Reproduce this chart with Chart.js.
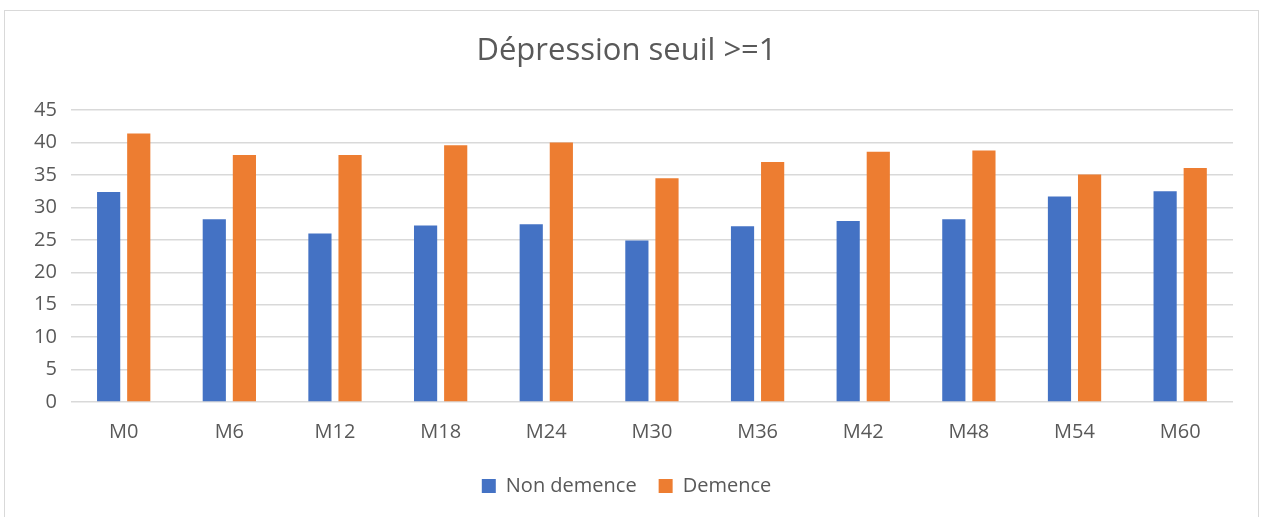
<!DOCTYPE html>
<html>
<head>
<meta charset="utf-8">
<script src="https://cdn.jsdelivr.net/npm/chart.js@4/dist/chart.umd.min.js"></script>
<style>
    html, body { margin: 0; padding: 0; background: #fff; overflow: hidden; }
    #frame { position: absolute; left: 4px; top: 10px; width: 1255px; height: 520px; border: 1px solid #d9d9d9; box-sizing: border-box; }
    #wrap { position: absolute; left: 0; top: 0; width: 1263px; height: 517px; }
</style>
</head>
<body>
<div id="frame"></div>
<div id="wrap"><canvas id="chart" width="1263" height="517"></canvas></div>
<script>
const months = ['M0', 'M6', 'M12', 'M18', 'M24', 'M30', 'M36', 'M42', 'M48', 'M54', 'M60'];
const nonDemence = [32.4, 28.2, 26.0, 27.2, 27.4, 24.9, 27.1, 27.9, 28.2, 31.7, 32.5];
const demence = [41.4, 38.1, 38.1, 39.6, 40.0, 34.5, 37.0, 38.6, 38.8, 35.1, 36.1];

const grey = '#595959';
const font = "'Open Sans', 'Noto Sans', sans-serif";

window.addEventListener('load', function() {
    const ctx = document.getElementById('chart').getContext('2d');
    new Chart(ctx, {
        type: 'bar',
        data: {
            labels: months,
            datasets: [
                {
                    label: 'Non demence',
                    data: nonDemence,
                    backgroundColor: '#4472c4',
                    categoryPercentage: 0.57,
                    barPercentage: 0.77
                },
                {
                    label: 'Demence',
                    data: demence,
                    backgroundColor: '#ed7d31',
                    categoryPercentage: 0.57,
                    barPercentage: 0.77
                }
            ]
        },
        options: {
            responsive: false,
            animation: false,
            layout: { padding: { left: 20, right: 30, top: 0, bottom: 11 } },
            plugins: {
                title: {
                    display: true,
                    text: 'Dépression seuil >=1',
                    color: grey,
                    font: { family: font, size: 31, weight: 'normal' },
                    padding: { top: 33, bottom: 40 }
                },
                legend: {
                    position: 'bottom',
                    labels: {
                        color: grey,
                        font: { family: font, size: 20 },
                        boxWidth: 14,
                        boxHeight: 14,
                        padding: 22
                    }
                },
                tooltip: { enabled: false }
            },
            scales: {
                x: {
                    grid: { display: false },
                    border: { display: false },
                    ticks: { color: grey, font: { family: font, size: 20 }, padding: 10 }
                },
                y: {
                    min: 0,
                    max: 45,
                    ticks: { stepSize: 5, color: grey, font: { family: font, size: 20 }, padding: 14 },
                    grid: { color: '#d9d9d9', lineWidth: 1.5, drawTicks: false },
                    border: { display: false }
                }
            }
        }
    });
});
</script>
</body>
</html>
